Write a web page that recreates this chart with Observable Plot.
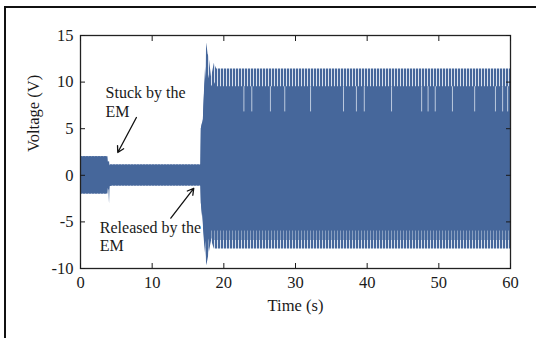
<!DOCTYPE html>
<html>
<head>
<meta charset="utf-8">
<script src="https://cdn.jsdelivr.net/npm/d3@7"></script>
<script src="https://cdn.jsdelivr.net/npm/@observablehq/plot@0.6"></script>
<style>
  html, body { margin: 0; padding: 0; background: #fff; }
  #wrap { position: relative; width: 536px; height: 338px; overflow: hidden; }
  #border { position: absolute; left: 4px; top: 6px; width: 600px; height: 400px; border: 2px solid #111; box-sizing: border-box; }
  #chart { position: absolute; left: 0; top: 0; }
</style>
</head>
<body>
<div id="wrap"><div id="border"></div><div id="chart"></div></div>
<script>
// Envelope of the voltage signal
const time    = [0,    3.8,  3.85, 4.0,  4.05, 4.1,  4.15, 4.4,   16.8,  16.86, 17.14, 17.33, 17.62, 17.8, 17.95, 18.29, 18.67, 19.0, 60];
const outerHi = [2.0,  2.0,  1.4,  1.4,  1.5,  1.0,  1.1,  1.1,   1.1,   5.0,   6.0,   9.6,   14.2,  13.0, 12.7,  10.5,  12.0,  11.4, 11.4];
const coreHi  = [2.0,  2.0,  1.4,  1.4,  1.5,  1.0,  1.1,  1.1,   1.1,   5.0,   6.0,   9.2,   12.0,  11.0, 10.5,  9.5,   10.0,  9.5,  9.5];
const coreLo  = [-2.0, -2.0, -1.4, -1.6, -3.1, -1.6, -1.2, -1.15, -1.15, -3.0,  -5.0,  -6.5,  -8.0,  -7.5, -7.0,  -6.0,  -6.0,  -6.0, -6.0];
const midLo   = [-2.0, -2.0, -1.4, -1.6, -3.1, -1.6, -1.2, -1.15, -1.15, -3.0,  -5.3,  -7.0,  -9.0,  -8.5, -8.0,  -6.8,  -7.0,  -7.0, -7.0];
const outerLo = [-2.0, -2.0, -1.4, -1.6, -3.1, -1.6, -1.2, -1.15, -1.15, -3.0,  -5.5,  -7.5,  -9.7,  -9.0, -8.4,  -7.0,  -7.9,  -7.9, -7.9];

// light dropouts visible inside the upper part of the band
const dropTimes = [22.8, 23.9, 26.5, 28.5, 32.1, 36.7, 38.5, 39.6, 43.4, 47.6, 48.5, 49.5, 51.9, 55.0, 57.9, 58.9, 59.6];
const dropTop = 9.5, dropBottom = 6.8;

const xTicks = [0, 10, 20, 30, 40, 50, 60];
const yTicks = [-10, -5, 0, 5, 10, 15];
const xLabel = "Time (s)";
const yLabel = "Voltage (V)";

const notes = [
  {t: 3.5, v: 7.9, text: "Stuck by the\nEM"},
  {t: 2.7, v: -6.5, text: "Released by the\nEM"}
];
const arrows = [
  {t1: 7.8, v1: 6.2, t2: 5.2, v2: 2.45},
  {t1: 12.6, v1: -4.6, t2: 15.8, v2: -1.4}
];

const blue = "#46679b";
const env = time.map((t, i) => ({t, oh: outerHi[i], ch: coreHi[i], cl: coreLo[i], ml: midLo[i], ol: outerLo[i]}));
const font = "'Liberation Serif', 'Times New Roman', serif";

const plot = Plot.plot({
  width: 536,
  height: 338,
  marginLeft: 80,
  marginRight: 26,
  marginTop: 35,
  marginBottom: 70,
  style: {fontFamily: font, fontSize: "16px", color: "#1a1a1a", background: "transparent"},
  x: {domain: [0, 60]},
  y: {domain: [-10, 15]},
  marks: [
    Plot.areaY(env, {x: "t", y1: "ol", y2: "oh", fill: "url(#teeth)"}),
    Plot.areaY(env, {x: "t", y1: "ml", y2: "cl", fill: blue, fillOpacity: 0.55}),
    Plot.areaY(env, {x: "t", y1: "cl", y2: "ch", fill: blue}),
    Plot.ruleX(dropTimes, {x: d => d, y1: dropBottom, y2: dropTop, stroke: "#bccadf", strokeWidth: 1}),
    Plot.frame({stroke: "#222", strokeWidth: 1.3}),
    Plot.axisX(xTicks, {anchor: "bottom", tickSize: -5, tickPadding: 13, tickFormat: d => String(d), label: null, fontSize: 16.5}),
    Plot.axisX(xTicks, {anchor: "top", tickSize: -5, tickFormat: () => "", label: null}),
    Plot.axisY(yTicks, {anchor: "left", tickSize: -5, tickPadding: 12, tickFormat: d => String(d), label: null, fontSize: 16.5}),
    Plot.axisY(yTicks, {anchor: "right", tickSize: -5, tickFormat: () => "", label: null}),
    Plot.text([xLabel], {frameAnchor: "bottom", dy: 42, text: d => d, fontSize: 16.5, fill: "#1a1a1a"}),
    Plot.text([yLabel], {frameAnchor: "left", dx: -47, rotate: -90, text: d => d, fontSize: 16.5, fill: "#1a1a1a"}),
    Plot.text(notes, {x: "t", y: "v", text: "text", textAnchor: "start", lineAnchor: "middle", lineHeight: 1.15, fontSize: 16, fill: "#1a1a1a"}),
    Plot.arrow(arrows, {x1: "t1", y1: "v1", x2: "t2", y2: "v2", stroke: "#111", strokeWidth: 1.3, headLength: 8})
  ]
});

// stripe pattern imitating the dense oscillation teeth
const ns = "http://www.w3.org/2000/svg";
const defs = document.createElementNS(ns, "defs");
defs.innerHTML = `<pattern id="teeth" patternUnits="userSpaceOnUse" x="80" y="0" width="3" height="10">
  <rect width="3" height="10" fill="#d9e1ee"></rect>
  <rect width="2" height="10" fill="${blue}"></rect>
</pattern>`;
plot.insertBefore(defs, plot.firstChild);

document.getElementById("chart").appendChild(plot);
</script>
</body>
</html>
